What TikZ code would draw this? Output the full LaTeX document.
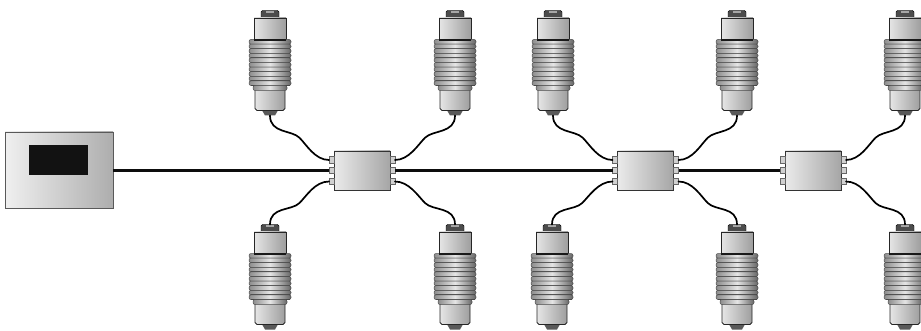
\documentclass[tikz,border=0pt]{standalone}
\usetikzlibrary{calc}

\tikzset{
    panel/.style={rectangle, draw=black!65, line width=0.8pt, inner sep=0pt, outer sep=0pt, left color=black!6, right color=black!32},
    screen/.style={rectangle, fill=black!93, inner sep=0pt, outer sep=0pt, minimum width=59pt, minimum height=30pt},
    jbox/.style={rectangle, draw=black!80, line width=0.7pt, inner sep=0pt, outer sep=0pt, minimum width=56pt, minimum height=39pt, left color=black!8, right color=black!35},
    port/.style={rectangle, draw=black!60, line width=0.5pt, fill=black!18, inner sep=0pt, outer sep=0pt, minimum width=5pt, minimum height=6.5pt},
    cable/.style={line width=1.7pt, black, line cap=round},
    mainline/.style={line width=2.8pt, black!95},
    rib/.style={draw=black!70, line width=0.5pt, rounded corners=2pt, left color=black!45, right color=black!60, middle color=black!10},
    cylinder/.style={line width=0.9pt, draw=black!85, left color=black!10, right color=black!38},
    loadcell/.pic={
        % flat cap
        \draw[fill=black!70, rounded corners=1.5pt] (-9,0) rectangle (9,8);
        \fill[black!35] (-4,1) rectangle (4,3);
        % taper at the far end
        \fill[black!65] (-9,98) -- (9,98) -- (5,105) -- (-5,105) -- cycle;
        % upper and lower cylinder
        \draw[cylinder] (-16,7.5) rectangle (16,30);
        \draw[cylinder] (-15,78) -- (-15,98) -- (-13,100) -- (13,100) -- (15,98) -- (15,78) -- cycle;
        % bellows
        \foreach \r in {0,...,9} {
            \draw[rib] (-21,{29+4.6*\r}) rectangle (21,{29+4.6*(\r+1)});
            \draw[line width=1pt, black!72] (-19.5,{29+4.6*(\r+1)}) -- (19.5,{29+4.6*(\r+1)});
        }
        \draw[rib] (-17,75) rectangle (17,80);
        \draw[line width=1.3pt, black!90] (-16,29.5) -- (16,29.5);
        \coordinate (-top) at (0,0);
        \coordinate (-bot) at (0,105);
    }
}

\begin{document}
\begin{tikzpicture}[x=1pt, y=-1pt]
    \useasboundingbox (0,0) rectangle (921,331);

    % Display unit
    \node[panel, minimum width=108pt, minimum height=76pt] (unit) at (59,170) {};
    \node[screen] (lcd) at (58.5,160) {};

    % Load cells
    \foreach \name/\xpos in {T1/270, T2/455, T3/553, T4/737, T5/905} {
        \pic (\name) at (\xpos,10.5) {loadcell};
    }
    \foreach \name/\xpos in {L1/270, L2/455, L3/552, L4/737, L5/905} {
        \pic (\name) at (\xpos,224.5) {loadcell};
    }

    % Junction boxes with their six ports
    \foreach \name/\xpos in {B1/362, B2/645.5, B3/813} {
        \node[jbox] (\name) at (\xpos,170.5) {};
        \node[port, anchor=east] (\name-lt) at ($(\name.west)+(0,-10.5)$) {};
        \node[port, anchor=east] (\name-lm) at ($(\name.west)+(0,0)$) {};
        \node[port, anchor=east] (\name-lb) at ($(\name.west)+(0,11)$) {};
        \node[port, anchor=west] (\name-rt) at ($(\name.east)+(0,-10.5)$) {};
        \node[port, anchor=west] (\name-rm) at ($(\name.east)+(0,0)$) {};
        \node[port, anchor=west] (\name-rb) at ($(\name.east)+(0,11)$) {};
    }

    % Bus line
    \draw[mainline] (unit.east |- B1-lm.west) -- (B1-lm.west);
    \draw[mainline] (B1-rm.east) -- (B2-lm.west);
    \draw[mainline] (B2-rm.east) -- (B3-lm.west);

    % Cables from the cells to the ports
    \foreach \lc/\jp/\sx/\sy in {T1-bot/B1-lt.west/1/1, T2-bot/B1-rt.east/-1/1, T3-bot/B2-lt.west/1/1, T4-bot/B2-rt.east/-1/1, T5-bot/B3-rt.east/-1/1} {
        \draw[cable] (\lc) .. controls +(0,18*\sy) and +(-8*\sx,-8*\sy) .. ($(\lc)!.5!(\jp)$)
            .. controls +(7*\sx,7*\sy) and +(-14*\sx,0) .. (\jp);
    }
    \foreach \lc/\jp/\sx/\sy in {L1-top/B1-lb.west/1/-1, L2-top/B1-rb.east/-1/-1, L3-top/B2-lb.west/1/-1, L4-top/B2-rb.east/-1/-1, L5-top/B3-rb.east/-1/-1} {
        \draw[cable] (\lc) .. controls +(0,18*\sy) and +(-8*\sx,-8*\sy) .. ($(\lc)!.5!(\jp)$)
            .. controls +(7*\sx,7*\sy) and +(-14*\sx,0) .. (\jp);
    }
\end{tikzpicture}
\end{document}
